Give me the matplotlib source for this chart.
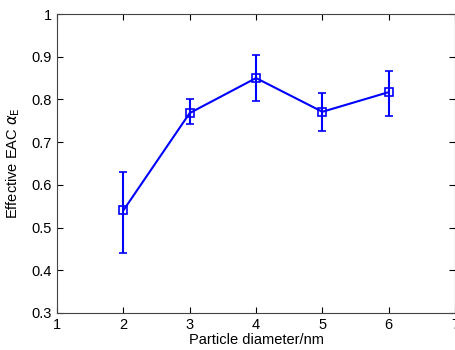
import matplotlib
matplotlib.use("Agg")
import matplotlib.pyplot as plt

plt.rcParams['font.family'] = ['Liberation Sans', 'DejaVu Sans']
plt.rcParams['mathtext.fontset'] = 'dejavusans'

# data
diameter = [2, 3, 4, 5, 6]
eac = [0.540, 0.768, 0.850, 0.771, 0.817]
err_low = [0.100, 0.026, 0.054, 0.045, 0.056]
err_high = [0.090, 0.032, 0.055, 0.043, 0.050]

fig = plt.figure(figsize=(4.56, 3.5), dpi=100)
ax = fig.add_axes([0.125, 0.106, 0.873, 0.854])

ax.errorbar(diameter, eac, yerr=[err_low, err_high], color='#0000ff',
            lw=1.5, marker='s', mfc='none', mec='#0000ff', ms=6, mew=1.2,
            capsize=3, capthick=1.5, elinewidth=1.5)

ax.set_xlim(1, 7)
ax.set_ylim(0.3, 1.0)
ax.set_xticks([1, 2, 3, 4, 5, 6, 7])
ax.set_yticks([0.3, 0.4, 0.5, 0.6, 0.7, 0.8, 0.9, 1.0])
ax.set_yticklabels(['0.3', '0.4', '0.5', '0.6', '0.7', '0.8', '0.9', '1'])
ax.tick_params(direction='in', top=True, right=True, labelsize=10.5, length=4)
for s in ax.spines.values():
    s.set_color('#444444')
    s.set_linewidth(0.8)

ax.set_xlabel('Particle diameter/nm', fontsize=10.5, labelpad=1)
ax.set_ylabel(r'Effective EAC $\alpha_{\mathrm{E}}$', fontsize=10.5, labelpad=7)

fig.savefig('out.png', dpi=100)
